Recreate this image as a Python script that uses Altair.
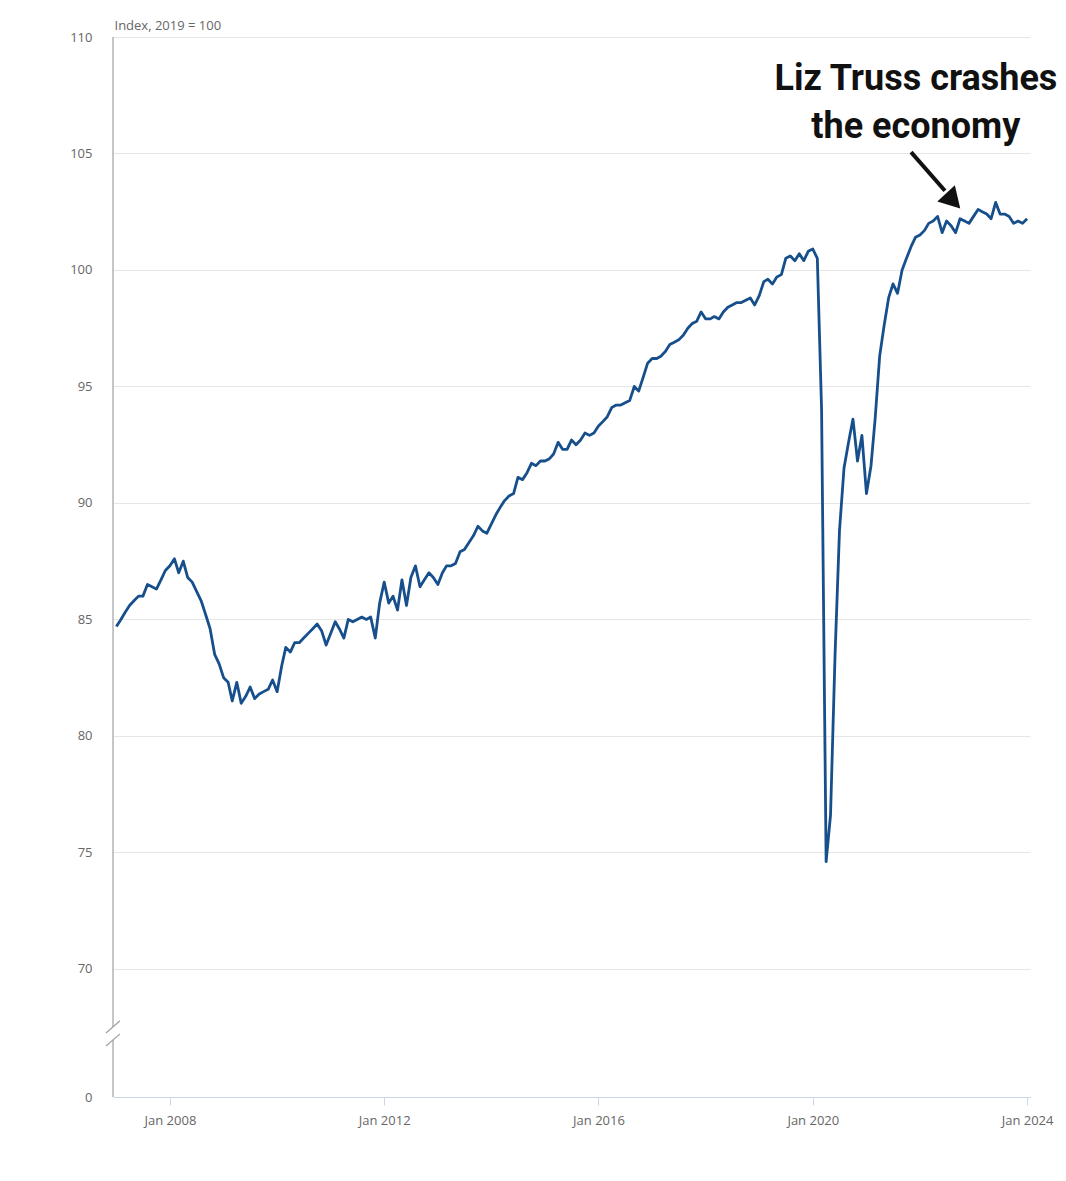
import altair as alt
import pandas as pd

# Monthly GDP index (2019 = 100), Jan 2007 .. Jan 2024
y2007 = [84.7, 85.0, 85.3, 85.6, 85.8, 86.0, 86.0, 86.5, 86.4, 86.3, 86.7, 87.1]
y2008 = [87.3, 87.6, 87.0, 87.5, 86.8, 86.6, 86.2, 85.8, 85.2, 84.6, 83.5, 83.1]
y2009 = [82.5, 82.3, 81.5, 82.3, 81.4, 81.7, 82.1, 81.6, 81.8, 81.9, 82.0, 82.4]
y2010 = [81.9, 83.0, 83.8, 83.6, 84.0, 84.0, 84.2, 84.4, 84.6, 84.8, 84.5, 83.9]
y2011 = [84.4, 84.9, 84.6, 84.2, 85.0, 84.9, 85.0, 85.1, 85.0, 85.1, 84.2, 85.7]
y2012 = [86.6, 85.7, 86.0, 85.4, 86.7, 85.6, 86.8, 87.3, 86.4, 86.7, 87.0, 86.8]
y2013 = [86.5, 87.0, 87.3, 87.3, 87.4, 87.9, 88.0, 88.3, 88.6, 89.0, 88.8, 88.7]
y2014 = [89.1, 89.5, 89.8, 90.1, 90.3, 90.4, 91.1, 91.0, 91.3, 91.7, 91.6, 91.8]
y2015 = [91.8, 91.9, 92.1, 92.6, 92.3, 92.3, 92.7, 92.5, 92.7, 93.0, 92.9, 93.0]
y2016 = [93.3, 93.5, 93.7, 94.1, 94.2, 94.2, 94.3, 94.4, 95.0, 94.8, 95.4, 96.0]
y2017 = [96.2, 96.2, 96.3, 96.5, 96.8, 96.9, 97.0, 97.2, 97.5, 97.7, 97.8, 98.2]
y2018 = [97.9, 97.9, 98.0, 97.9, 98.2, 98.4, 98.5, 98.6, 98.6, 98.7, 98.8, 98.5]
y2019 = [98.9, 99.5, 99.6, 99.4, 99.7, 99.8, 100.5, 100.6, 100.4, 100.7, 100.4, 100.8]
y2020 = [100.9, 100.5, 94.0, 74.6, 76.6, 83.5, 88.8, 91.5, 92.6, 93.6, 91.8, 92.9]
y2021 = [90.4, 91.6, 93.6, 96.3, 97.6, 98.8, 99.4, 99.0, 100.0, 100.5, 101.0, 101.4]
y2022 = [101.5, 101.7, 102.0, 102.1, 102.3, 101.6, 102.1, 101.9, 101.6, 102.2, 102.1, 102.0]
y2023 = [102.3, 102.6, 102.5, 102.4, 102.2, 102.9, 102.4, 102.4, 102.3, 102.0, 102.1, 102.0]
y2024 = [102.2]

values = (y2007 + y2008 + y2009 + y2010 + y2011 + y2012 + y2013 + y2014 + y2015
          + y2016 + y2017 + y2018 + y2019 + y2020 + y2021 + y2022 + y2023 + y2024)
dates = list(pd.date_range("2007-01-01", periods=len(values), freq="MS").strftime("%Y-%m-%d"))

# Axis ticks
x_tick_years = [2008, 2012, 2016, 2020, 2024]
y_tick_values = [64.5, 70, 75, 80, 85, 90, 95, 100, 105, 110]  # 64.5 is shown as "0" (broken axis)

# Annotation
ann_dates = ["2021-12-04", "2021-12-04"]
ann_values = [108.2, 106.15]
ann_texts = ["Liz Truss crashes", "the economy"]

arrow_start_date, arrow_start_value = "2021-11-01", 105.06
arrow_end_date, arrow_end_value = "2022-06-20", 103.40
head_date, head_value, head_angle = "2022-07-30", 103.07, 137

# Broken y axis: axis line segments and break strokes (data units)
axis_top = [110, 66.95]
axis_bottom = [67.51, 64.5]
break_lo = [67.25, 66.69]
break_hi = [67.77, 67.21]

FONT = "Open Sans"
LABEL = "#666666"

df = pd.DataFrame({"date": dates, "value": values})
ann = pd.DataFrame({"date": ann_dates, "value": ann_values, "text": ann_texts})
arrow = pd.DataFrame({"d1": [arrow_start_date], "v1": [arrow_start_value],
                      "d2": [arrow_end_date], "v2": [arrow_end_value]})
head = pd.DataFrame({"date": [head_date], "value": [head_value], "angle": [head_angle]})
axis_df = pd.DataFrame({"top": axis_top, "bottom": axis_bottom})
brk = pd.DataFrame({"lo": break_lo, "hi": break_hi})

xscale = alt.Scale(type="utc",
                   domain=[alt.DateTime(year=2006, month=12, date=9, utc=True),
                           alt.DateTime(year=2024, month=1, date=21, utc=True)])
yscale = alt.Scale(domain=[64.5, 110], nice=False, zero=False)

xaxis = alt.Axis(
    values=[alt.DateTime(year=y, month=1, date=1, utc=True) for y in x_tick_years],
    format="%b %Y", grid=False, title=None,
    domainColor="#ccd6eb", tickColor="#ccd6eb", tickSize=8,
    labelFont=FONT, labelFontSize=13, labelColor=LABEL, labelPadding=9,
)
yaxis = alt.Axis(
    values=y_tick_values, domain=False, ticks=False,
    labelExpr="datum.value < 65 ? '0' : datum.label",
    labelFont=FONT, labelFontSize=13, labelColor=LABEL, labelPadding=21,
    gridColor="#e6e6e6", gridWidth=1,
    title="Index, 2019 = 100", titleAngle=0, titleAlign="left", titleBaseline="middle",
    titleX=1, titleY=-12, titleFont=FONT, titleFontSize=13, titleFontWeight="normal",
    titleColor=LABEL,
)

line = alt.Chart(df).mark_line(color="#174f8c", strokeWidth=2.8, strokeJoin="round").encode(
    x=alt.X("date:T", scale=xscale, axis=xaxis),
    y=alt.Y("value:Q", scale=yscale, axis=yaxis),
)

axis_line = alt.Chart(axis_df).mark_rule(color="#a0a0a0", strokeWidth=1.2).encode(
    x=alt.value(0), y=alt.Y("top:Q", scale=yscale), y2="bottom:Q"
)
break_marks = alt.Chart(brk).mark_rule(color="#a0a0a0", strokeWidth=1.2).encode(
    x=alt.value(-7), x2=alt.value(7), y=alt.Y("lo:Q", scale=yscale), y2="hi:Q"
)

ann_text = alt.Chart(ann).mark_text(
    font="Roboto", fontWeight="bold", fontSize=36, color="#111111",
    align="center", baseline="middle",
).encode(x=alt.X("date:T", scale=xscale), y=alt.Y("value:Q", scale=yscale), text="text:N")

shaft = alt.Chart(arrow).mark_rule(color="#111111", strokeWidth=4).encode(
    x=alt.X("d1:T", scale=xscale), y=alt.Y("v1:Q", scale=yscale), x2="d2:T", y2="v2:Q"
)
arrow_head = alt.Chart(head).mark_point(shape="triangle", filled=True, size=576,
                                        color="#111111", opacity=1).encode(
    x=alt.X("date:T", scale=xscale), y=alt.Y("value:Q", scale=yscale),
    angle=alt.Angle("angle:Q", scale=None),
)

chart = alt.layer(line, axis_line, break_marks, shaft, arrow_head, ann_text).properties(
    width=917, height=1060,
    autosize=alt.AutoSizeParams(type="none"),
    padding={"left": 105, "top": 29, "right": 28, "bottom": 60},
    background="white",
).configure_view(stroke=None)

chart.save("out.html", embed_options={"renderer": "svg", "actions": False})
